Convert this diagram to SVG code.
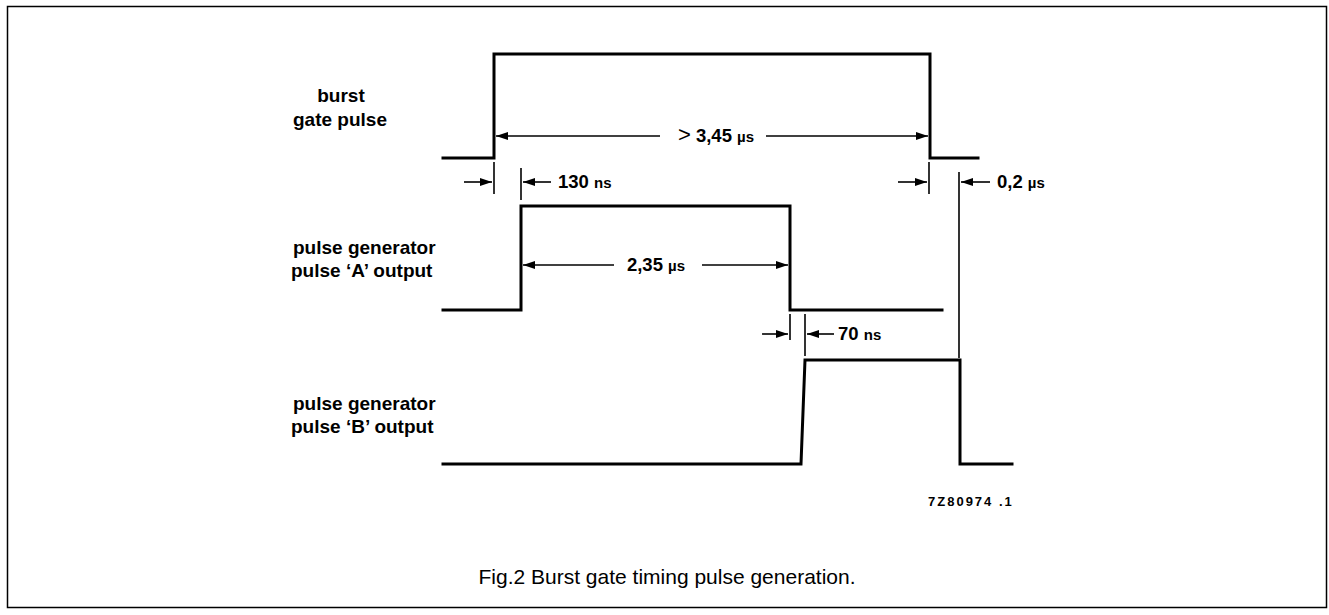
<svg xmlns="http://www.w3.org/2000/svg" width="1329" height="615" viewBox="0 0 1329 615">
<style>
.wave{fill:none;stroke:#000;stroke-width:3;stroke-linejoin:miter;stroke-linecap:square}
.dim{fill:none;stroke:#000;stroke-width:1.6}
.lbl{font-family:"Liberation Sans",Arial,sans-serif;font-weight:bold;font-size:19px;fill:#000}
.num{font-family:"Liberation Sans",Arial,sans-serif;font-weight:bold;font-size:18.5px;fill:#000}
.unit{font-size:15px}
.gt{font-weight:normal;font-size:22px}
.cap{font-family:"Liberation Sans",Arial,sans-serif;font-size:21px;fill:#000}
.code{font-family:"Liberation Sans",Arial,sans-serif;font-weight:bold;font-size:13px;fill:#000;letter-spacing:2px}
</style>
<defs>
<marker id="ah" viewBox="0 0 12 8" refX="12" refY="4" markerWidth="12" markerHeight="8" markerUnits="userSpaceOnUse" orient="auto-start-reverse"><path d="M0,0 L12,4 L0,8 z" fill="#000"/></marker>
</defs>
<rect x="7.5" y="6.5" width="1319" height="601" fill="#fff" stroke="#000" stroke-width="1.5"/>

<g id="burst-gate">
<text class="lbl" x="341" y="102" text-anchor="middle">burst</text>
<text class="lbl" x="293" y="126">gate pulse</text>
<path class="wave" d="M443,158 H494 V54 H930 V158 H978"/>
</g>

<g id="pulse-a">
<text class="lbl" x="293" y="254">pulse generator</text>
<text class="lbl" x="291" y="277">pulse ‘A’ output</text>
<path class="wave" d="M443,310 H521 V206 H790 V310 H942"/>
</g>

<g id="pulse-b">
<text class="lbl" x="293" y="410">pulse generator</text>
<text class="lbl" x="291" y="433">pulse ‘B’ output</text>
<path class="wave" d="M443,464 H801 L805,360 H960 V464 H1012"/>
<text class="code" x="928" y="506">7Z80974 .1</text>
</g>

<g id="connectors">
<line class="dim" x1="660" y1="136" x2="496" y2="136" marker-end="url(#ah)"/>
<line class="dim" x1="766" y1="136" x2="928" y2="136" marker-end="url(#ah)"/>
<line class="dim" x1="614" y1="265" x2="523" y2="265" marker-end="url(#ah)"/>
<line class="dim" x1="702" y1="265" x2="788" y2="265" marker-end="url(#ah)"/>
<line class="dim" x1="494" y1="162" x2="494" y2="194"/>
<line class="dim" x1="521" y1="168" x2="521" y2="200"/>
<line class="dim" x1="464" y1="182" x2="492" y2="182" marker-end="url(#ah)"/>
<line class="dim" x1="551" y1="182" x2="523" y2="182" marker-end="url(#ah)"/>
<line class="dim" x1="929" y1="162" x2="929" y2="194"/>
<line class="dim" x1="959" y1="172" x2="959" y2="358"/>
<line class="dim" x1="898" y1="182" x2="927" y2="182" marker-end="url(#ah)"/>
<line class="dim" x1="990" y1="182" x2="961" y2="182" marker-end="url(#ah)"/>
<line class="dim" x1="790" y1="314" x2="790" y2="340"/>
<line class="dim" x1="805" y1="314" x2="805" y2="356"/>
<line class="dim" x1="762" y1="334" x2="788" y2="334" marker-end="url(#ah)"/>
<line class="dim" x1="834" y1="334" x2="807" y2="334" marker-end="url(#ah)"/>
</g>

<g id="dimension-labels">
<text class="num" x="716" y="142" text-anchor="middle"><tspan class="gt">&gt;</tspan> 3,45 <tspan class="unit">µs</tspan></text>
<text class="num" x="656" y="271" text-anchor="middle">2,35 <tspan class="unit">µs</tspan></text>
<text class="num" x="558" y="188">130 <tspan class="unit">ns</tspan></text>
<text class="num" x="997" y="188">0,2 <tspan class="unit">µs</tspan></text>
<text class="num" x="838" y="340">70 <tspan class="unit">ns</tspan></text>
</g>

<text class="cap" x="667" y="584" text-anchor="middle">Fig.2  Burst gate timing pulse generation.</text>
</svg>
